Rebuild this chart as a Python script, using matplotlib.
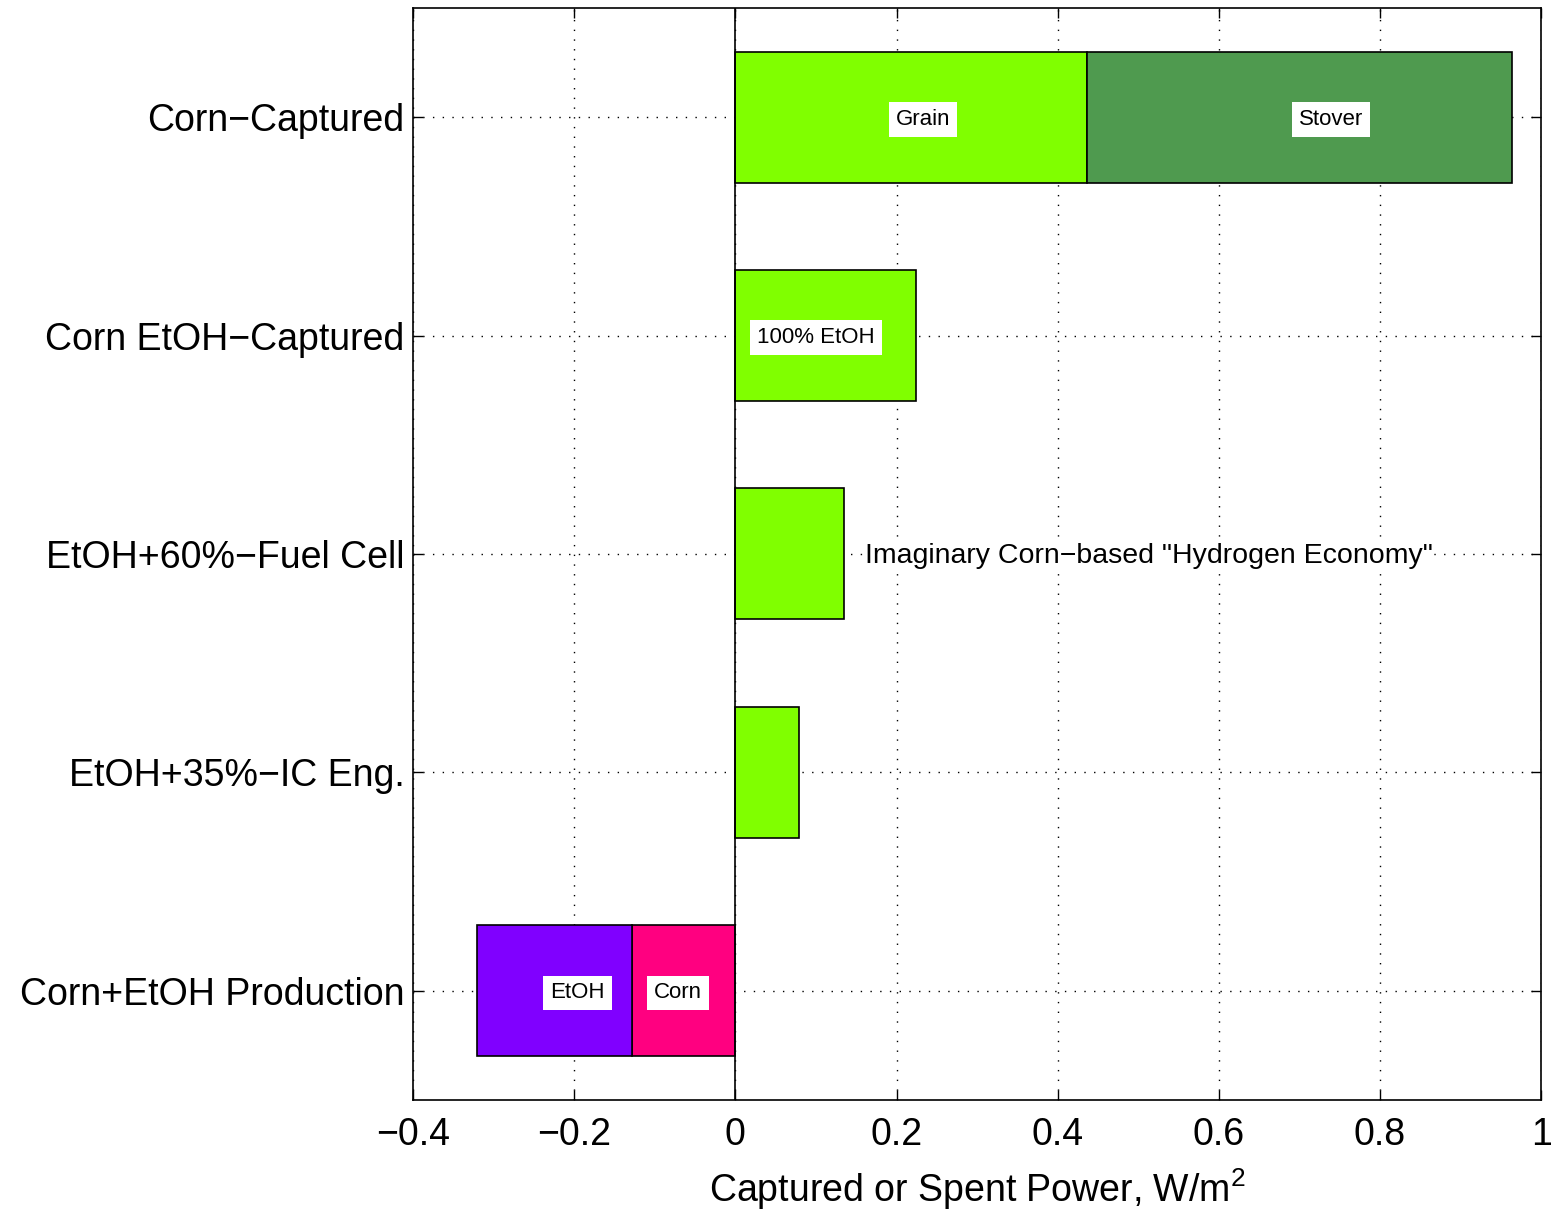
import matplotlib.pyplot as plt
import numpy as np

plt.rcParams['font.family'] = ['Liberation Sans', 'DejaVu Sans']

# categories from top to bottom
categories = ['Corn\u2212Captured', 'Corn EtOH\u2212Captured', 'EtOH+60%\u2212Fuel Cell',
              'EtOH+35%\u2212IC Eng.', 'Corn+EtOH Production']
# first segment (from zero) and second segment stacked on it
first = [0.436, 0.224, 0.135, 0.079, -0.128]
second = [0.528, 0.0, 0.0, 0.0, -0.193]
first_colors = ['#80FF00', '#80FF00', '#80FF00', '#80FF00', '#FF0080']
second_colors = ['#4F9A4F', '#4F9A4F', '#4F9A4F', '#4F9A4F', '#8000FF']
xtick_labels = ['\u22120.4', '\u22120.2', '0', '0.2', '0.4', '0.6', '0.8', '1']

fig = plt.figure(figsize=(15.55, 12.09), dpi=100)
ax = fig.add_axes([0.2656, 0.0902, 0.7255, 0.9032])

y = np.arange(1, len(categories) + 1)
ax.barh(y, first, height=0.6, color=first_colors, edgecolor='black', linewidth=1.2, zorder=3)
for i in range(len(categories)):
    if second[i] != 0:
        ax.barh(y[i], second[i], left=first[i], height=0.6, color=second_colors[i],
                edgecolor='black', linewidth=1.2, zorder=3)

ax.axvline(0, color='black', linewidth=1.2, zorder=4)

box = dict(facecolor='white', edgecolor='none', pad=5)
ax.text(0.233, 1.01, 'Grain', fontsize=16, ha='center', va='center', bbox=box, zorder=5)
ax.text(0.739, 1.01, 'Stover', fontsize=16, ha='center', va='center', bbox=box, zorder=5)
ax.text(0.100, 2.01, '100% EtOH', fontsize=16, ha='center', va='center', bbox=box, zorder=5)
ax.text(0.161, 3.01, 'Imaginary Corn\u2212based "Hydrogen Economy"', fontsize=20.5,
        ha='left', va='center', bbox=dict(facecolor='white', edgecolor='none', pad=1), zorder=5)
ax.text(-0.196, 5.01, 'EtOH', fontsize=16, ha='center', va='center', bbox=box, zorder=5)
ax.text(-0.071, 5.01, 'Corn', fontsize=16, ha='center', va='center', bbox=box, zorder=5)

ax.set_xlim(-0.4, 1.0)
ax.set_ylim(5.5, 0.5)
ax.set_xticks(np.arange(-0.4, 1.01, 0.2))
ax.set_xticklabels(xtick_labels)
ax.set_yticks(y)
ax.set_yticklabels(categories)
ax.tick_params(axis='both', labelsize=27, direction='in', top=True, right=True,
               length=7, width=1)
ax.tick_params(axis='x', pad=12)
ax.tick_params(axis='y', pad=6)
ax.grid(True, linestyle=(0, (1, 6)), color='black', linewidth=1, zorder=0)
ax.set_axisbelow(True)
for s in ax.spines.values():
    s.set_linewidth(1.2)

ax.set_xlabel('Captured or Spent Power, W/m$^{\\mathregular{2}}$', fontsize=27, labelpad=10)

fig.savefig('out.png', dpi=100)
